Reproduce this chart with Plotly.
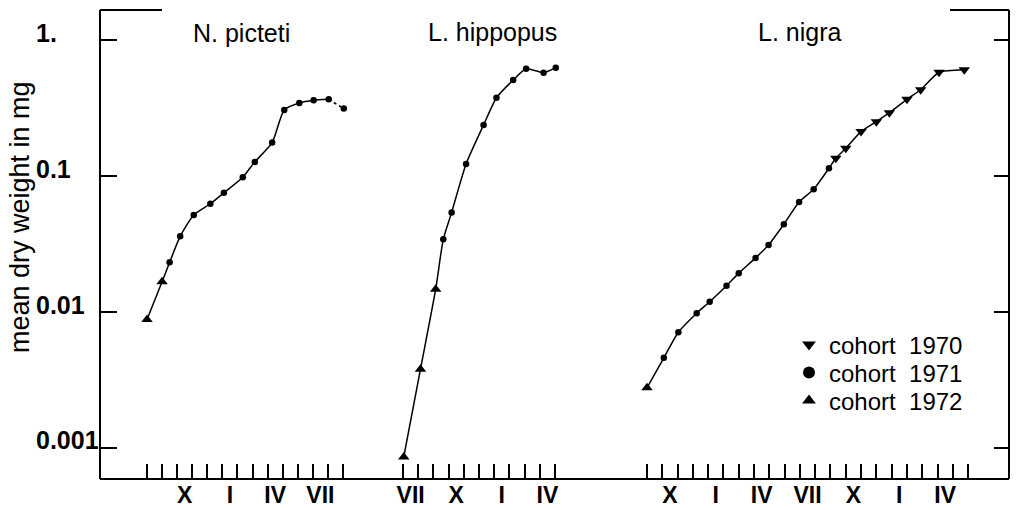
import math
import plotly.graph_objects as go

# ---------------- data ----------------
# months are counted from the first month-boundary tick of each panel
np_month = [0.0, 1.0, 1.5, 2.2, 3.1, 4.2, 5.1, 6.35, 7.15, 8.3, 9.1, 10.1, 11.05, 12.05, 13.05]
np_weight = [0.0088, 0.0167, 0.0232, 0.036, 0.0517, 0.0625, 0.0753, 0.098, 0.127, 0.176,
             0.306, 0.344, 0.36, 0.366, 0.313]
np_cohort = [1972, 1972] + [1971] * 13

lh_month = [0.05, 1.15, 2.15, 2.65, 3.2, 4.15, 5.3, 6.15, 7.25, 8.1, 9.25, 10.05]
lh_weight = [0.00086, 0.0038, 0.0147, 0.0342, 0.054, 0.1225, 0.237, 0.376, 0.508, 0.615, 0.575, 0.626]
lh_cohort = [1972] * 3 + [1971] * 9

ln_month = [0.0, 1.1, 2.05, 3.25, 4.1, 5.2, 6.0, 7.1, 7.95, 8.95, 9.95, 10.9, 11.9,
            12.35, 13.0, 14.0, 15.0, 15.85, 17.0, 17.9, 19.1, 20.75]
ln_weight = [0.00277, 0.0046, 0.0071, 0.0098, 0.0119, 0.0156, 0.0193, 0.025, 0.0311, 0.0442,
             0.0644, 0.080, 0.114, 0.135, 0.160, 0.212, 0.251, 0.292, 0.366, 0.431, 0.579, 0.605]
ln_cohort = [1972] + [1971] * 12 + [1970] * 9

panel_titles = ["N. picteti", "L. hippopus", "L. nigra"]

np_ticks = list(range(14))
lh_ticks = list(range(11))
ln_ticks = list(range(22))
np_lab_pos = [2.5, 5.5, 8.5, 11.5]
np_lab_txt = ["X", "I", "IV", "VII"]
lh_lab_pos = [0.5, 3.5, 6.5, 9.5]
lh_lab_txt = ["VII", "X", "I", "IV"]
ln_lab_pos = [1.5, 4.5, 7.5, 10.5, 13.5, 16.5, 19.5]
ln_lab_txt = ["X", "I", "IV", "VII", "X", "I", "IV"]

y_tick_vals = [0.001, 0.01, 0.1, 1]
y_tick_txt = ["0.001", "0.01", "0.1", "1."]

cohorts = [1970, 1971, 1972]
cohort_names = ["cohort \u00a01970", "cohort \u00a01971", "cohort \u00a01972"]

# ---------------- layout geometry ----------------
W, H = 1017, 510
ML, MR, MT, MB = 100, 8, 10, 31
PW = W - ML - MR
PH = H - MT - MB
FONT = "Liberation Sans"
symbol_of = {1970: "triangle-down", 1971: "circle", 1972: "triangle-up"}
size_of = {1970: 10, 1971: 6.5, 1972: 10}


def px2x(px):
    return (px - ML) / PW


def px2y(py):
    return (H - MB - py) / PH


def xaxis_cfg(dom_px, tick0_px, ppm, ticks, lab_pos, lab_txt):
    d0, d1 = dom_px
    return dict(
        domain=[px2x(d0), px2x(d1)],
        range=[(d0 - tick0_px) / ppm, (d1 - tick0_px) / ppm],
        anchor="y", showline=False, showgrid=False, zeroline=False, automargin=False,
        tickmode="array", tickvals=lab_pos, ticktext=lab_txt, ticks="",
        ticklabelstandoff=0,
        tickfont=dict(family=FONT, size=23, color="black", weight="bold"),
        minor=dict(tickmode="array", tickvals=ticks, ticks="inside", ticklen=15,
                   tickwidth=1.6, tickcolor="black", showgrid=False),
        fixedrange=True,
    )


fig = go.Figure()

line_style = dict(color="black", width=1.5, shape="spline", smoothing=0.6)


def marker_style(cohort):
    return dict(color="black", opacity=1, line=dict(width=0),
                symbol=[symbol_of[c] for c in cohort],
                size=[size_of[c] for c in cohort])


def add_panel(month, weight, cohort, xa):
    fig.add_trace(go.Scatter(
        x=month, y=weight, mode="lines+markers", xaxis=xa, yaxis="y",
        line=line_style, marker=marker_style(cohort),
        showlegend=False, hoverinfo="skip"))


# N. picteti: last segment dashed
n = len(np_month)
fig.add_trace(go.Scatter(
    x=np_month[n - 2:], y=np_weight[n - 2:], mode="lines", xaxis="x", yaxis="y",
    line=dict(color="black", width=1.5, dash="3px,3px"), showlegend=False, hoverinfo="skip"))
fig.add_trace(go.Scatter(
    x=np_month[n - 1:], y=np_weight[n - 1:], mode="markers", xaxis="x", yaxis="y",
    marker=marker_style(np_cohort[n - 1:]), showlegend=False, hoverinfo="skip"))
add_panel(np_month[:n - 1], np_weight[:n - 1], np_cohort[:n - 1], "x")
add_panel(lh_month, lh_weight, lh_cohort, "x2")
add_panel(ln_month, ln_weight, ln_cohort, "x3")

# legend entries (one legend per row so rows can be placed like the original)
legend_ids = ["legend", "legend2", "legend3"]
legend_rows_px = [345, 373, 401]
for c, name, lid in zip(cohorts, cohort_names, legend_ids):
    fig.add_trace(go.Scatter(
        x=[None], y=[None], mode="markers", xaxis="x3", yaxis="y2", name=name,
        legend=lid, marker=dict(color="black", symbol=symbol_of[c], size=8, line=dict(width=0))))

yrange = [-3.228, 0.2206]
yax = dict(type="log", range=yrange, showline=True, linewidth=2, linecolor="black",
           ticks="inside", tickwidth=1.6, tickcolor="black", tickvals=y_tick_vals,
           showticklabels=False, showgrid=False, zeroline=False, fixedrange=True,
           automargin=False)

annotations = []
for txt, cx, cy in zip(panel_titles, [241, 492, 799], [33, 32, 32]):
    annotations.append(dict(text=txt, x=px2x(cx), y=px2y(cy), xref="paper", yref="paper",
                            xanchor="center", yanchor="middle", showarrow=False,
                            font=dict(family=FONT, size=25, color="black")))
for v, t in zip(y_tick_vals, y_tick_txt):
    annotations.append(dict(text=t, x=px2x(34), y=math.log10(v) + 7.5 / 136, xref="paper", yref="y",
                            xanchor="left", yanchor="middle", showarrow=False,
                            font=dict(family=FONT, size=25, color="black", weight="bold")))
annotations.append(dict(text="mean dry weight in mg", textangle=-90, x=px2x(20), y=px2y(217),
                        xref="paper", yref="paper", xanchor="center", yanchor="middle",
                        showarrow=False, font=dict(family=FONT, size=27, color="black")))

shapes = [
    dict(type="line", xref="paper", yref="paper", x0=0, x1=1, y0=0, y1=0,
         line=dict(color="black", width=2)),
    dict(type="line", xref="paper", yref="paper", x0=0, x1=px2x(162), y0=1, y1=1,
         line=dict(color="black", width=2)),
    dict(type="line", xref="paper", yref="paper", x0=px2x(950), x1=1, y0=1, y1=1,
         line=dict(color="black", width=2)),
]

legend_common = dict(xanchor="left", yanchor="middle", bgcolor="rgba(0,0,0,0)",
                     font=dict(family=FONT, size=24, color="black"), itemsizing="constant")
legend_layout = {lid: dict(legend_common, x=px2x(789), y=px2y(ry))
                 for lid, ry in zip(legend_ids, legend_rows_px)}

fig.update_layout(
    width=W, height=H, autosize=False,
    margin=dict(l=ML, r=MR, t=MT, b=MB, pad=0),
    paper_bgcolor="white", plot_bgcolor="white",
    font=dict(family=FONT, color="black"),
    xaxis=xaxis_cfg((120, 365), 147, 15.08, np_ticks, np_lab_pos, np_lab_txt),
    xaxis2=xaxis_cfg((380, 600), 403, 15.2, lh_ticks, lh_lab_pos, lh_lab_txt),
    xaxis3=xaxis_cfg((620, 995), 647, 15.29, ln_ticks, ln_lab_pos, ln_lab_txt),
    yaxis=dict(yax, anchor="free", position=0, side="left", ticklen=16),
    yaxis2=dict(yax, anchor="free", position=1, side="right", overlaying="y", ticklen=14),
    showlegend=True,
    annotations=annotations, shapes=shapes,
    **legend_layout,
)

fig.write_html("out.html")
